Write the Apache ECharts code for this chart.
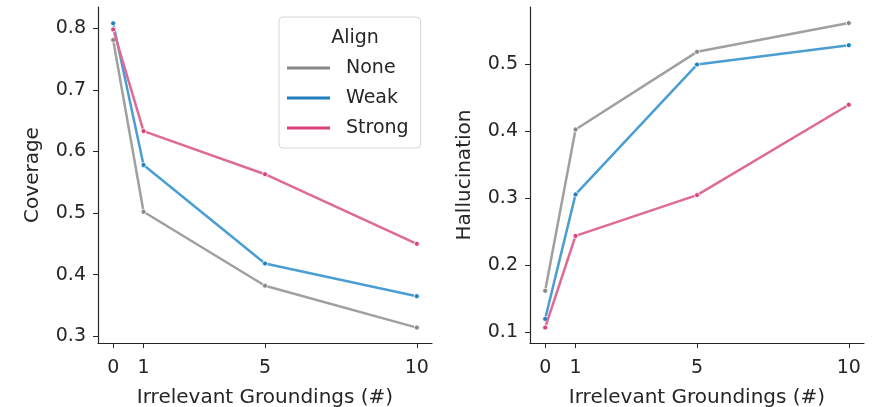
<!DOCTYPE html>
<html lang="en">
<head>
	<meta charset="UTF-8">
	<script src="https://cdn.jsdelivr.net/npm/echarts@6.0.0/dist/echarts.min.js"></script>
	<title>Coverage / Hallucination</title>
	<style>
		body { margin: 0; background: #fff; }
	</style>
</head>
<body>
	<div id="main" style="width: 884px;height:407px;"></div>

	<script>
		// data
		var groundings = [0, 1, 5, 10];
		var alignNames = ['None', 'Weak', 'Strong'];
		var coverageNone = [0.781, 0.502, 0.382, 0.314];
		var coverageWeak = [0.808, 0.578, 0.418, 0.365];
		var coverageStrong = [0.798, 0.633, 0.563, 0.450];
		var hallucNone = [0.162, 0.403, 0.519, 0.562];
		var hallucWeak = [0.120, 0.306, 0.500, 0.529];
		var hallucStrong = [0.107, 0.244, 0.305, 0.440];
		var coverageTicks = [0.3, 0.4, 0.5, 0.6, 0.7, 0.8];
		var hallucTicks = [0.1, 0.2, 0.3, 0.4, 0.5];

		var lineColors = ['#a0a0a0', '#4a9ed2', '#de6a95'];
		var markColors = ['#888888', '#1f7fbf', '#d9407d'];
		var ink = '#262626';
		var font = 'DejaVu Sans';

		function pairs(ys) {
			return groundings.map(function (x, i) { return [x, ys[i]]; });
		}

		function xAxis(idx) {
			return {
				type: 'value', gridIndex: idx, min: -0.5, max: 10.5,
				name: 'Irrelevant Groundings (#)', nameLocation: 'middle', nameGap: 45,
				nameTextStyle: { fontFamily: font, fontSize: 20, color: ink },
				axisLine: { onZero: false, lineStyle: { color: ink, width: 1.2 } },
				axisTick: { customValues: groundings, length: 5, lineStyle: { color: ink } },
				axisLabel: { customValues: groundings, fontFamily: font, fontSize: 19, color: ink, margin: 16 },
				splitLine: { show: false }
			};
		}

		function yAxis(idx, name, min, max, ticks) {
			return {
				type: 'value', gridIndex: idx, min: min, max: max,
				name: name, nameLocation: 'middle', nameGap: 55,
				nameTextStyle: { fontFamily: font, fontSize: 20, color: ink },
				axisLine: { show: true, onZero: false, lineStyle: { color: ink, width: 1.2 } },
				axisTick: { show: true, customValues: ticks, length: 5, lineStyle: { color: ink } },
				axisLabel: {
					customValues: ticks, fontFamily: font, fontSize: 19, color: ink, margin: 12,
					formatter: function (v) { return v.toFixed(1); }
				},
				splitLine: { show: false }
			};
		}

		function lineSeries(name, k, grid, ys) {
			return {
				name: name, type: 'line', xAxisIndex: grid, yAxisIndex: grid,
				data: pairs(ys),
				symbol: 'circle', symbolSize: 5,
				itemStyle: { color: markColors[k], borderColor: '#fff', borderWidth: 0.8 },
				lineStyle: { color: lineColors[k], width: 2.5 },
				z: 2 + k
			};
		}

		var chart = echarts.init(document.getElementById('main'));

		chart.setOption({
			animation: false,
			backgroundColor: '#fff',
			grid: [
				{ left: 98, top: 7, width: 334, height: 336, outerBoundsMode: 'none' },
				{ left: 530, top: 7, width: 334, height: 336, outerBoundsMode: 'none' }
			],
			xAxis: [xAxis(0), xAxis(1)],
			yAxis: [
				yAxis(0, 'Coverage', 0.289, 0.8345, coverageTicks),
				yAxis(1, 'Hallucination', 0.084, 0.586, hallucTicks)
			],
			title: {
				text: 'Align', left: 350, top: 24, textAlign: 'center',
				textStyle: { fontFamily: font, fontSize: 19, fontWeight: 'normal', color: ink }
			},
			legend: {
				orient: 'vertical', left: 279, top: 17,
				padding: [41, 12, 10, 8],
				itemWidth: 43, itemHeight: 3, itemGap: 10,
				icon: 'rect',
				backgroundColor: '#fff', borderColor: '#d6d6d6', borderWidth: 1, borderRadius: 4,
				textStyle: { fontFamily: font, fontSize: 19, color: ink, lineHeight: 20, padding: [0, 0, 0, 11] },
				data: alignNames.map(function (n, k) {
					return { name: n, itemStyle: { color: markColors[k], borderWidth: 0 } };
				}),
				z: 1
			},
			series: [
				lineSeries('None', 0, 0, coverageNone),
				lineSeries('Weak', 1, 0, coverageWeak),
				lineSeries('Strong', 2, 0, coverageStrong),
				lineSeries('None', 0, 1, hallucNone),
				lineSeries('Weak', 1, 1, hallucWeak),
				lineSeries('Strong', 2, 1, hallucStrong)
			]
		});
	</script>
</body>
</html>
